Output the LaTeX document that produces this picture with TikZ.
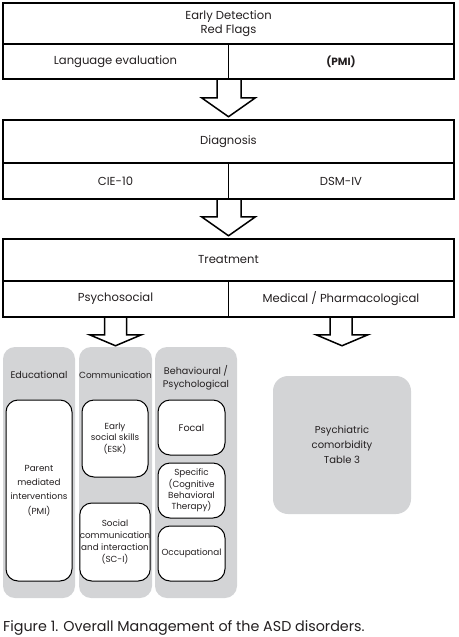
\documentclass[tikz,border=0pt]{standalone}
\usepackage{fontspec}
\setmainfont{Poppins}
\usepackage{tikz}
\usetikzlibrary{calc}
\definecolor{panelgray}{RGB}{211,212,214}
\definecolor{inkblack}{RGB}{35,31,32}

% open block arrow: from, towards, stem half width, head half width, stem length, head length
\newcommand{\hollowarrow}[6]{%
  \draw[arrowline] let \p1=#1, \p2=#2 in
    (\x1-#3,\y1) -- (\x1-#3,\y1-#5) -- (\x2-#4,\y1-#5) -- (\x2,\y1-#5-#6)
    -- (\x2+#4,\y1-#5) -- (\x1+#3,\y1-#5) -- (\x1+#3,\y1);}

\begin{document}
\begin{tikzpicture}[x=1pt, y=-1pt, text=inkblack,
    main/.style = {draw, line width=1.5pt, minimum width=451pt, inner sep=0pt,
                   align=center, font=\fontsize{11.6}{14}\selectfont},
    half/.style = {main, minimum width=225.5pt, minimum height=36pt},
    colbox/.style = {fill=panelgray, rounded corners=12pt, minimum height=251pt, inner sep=0pt},
    innerbox/.style = {draw, fill=white, line width=1pt, rounded corners=12pt, minimum width=66pt,
                       inner sep=0pt, align=center, font=\fontsize{8.8}{11.8}\selectfont},
    headtxt/.style = {align=center, inner sep=0pt, font=\fontsize{9.6}{13}\selectfont},
    arrowline/.style = {draw=black, line width=1.5pt, line join=miter}]
                \useasboundingbox (0,0) rectangle (458,637);
                % screening
                \node[main, minimum height=41pt] (1) at (228.5,23.5) {Early Detection\\Red Flags};
                \node[half, minimum height=35pt] (2) at (115.5,61.5) {Language evaluation};
                \node[half, minimum height=35pt, font=\fontsize{10.5}{12}\selectfont\bfseries] (3) at (341,61.5) {(PMI)};
                % diagnosis
                \node[main, minimum height=43pt] (4) at (228.5,141.5) {Diagnosis};
                \node[half] (5) at (115.5,181) {CIE-10};
                \node[half] (6) at (341,181) {DSM-IV};
                % treatment
                \node[main, minimum height=42pt] (7) at (228.5,260) {Treatment};
                \node[half] (8) at (115.5,299) {Psychosocial};
                \node[half] (9) at (341,299) {Medical / Pharmacological};
                % psychosocial columns
                \node[colbox, minimum width=72pt] (10) at (39,472.5) {};
                \node[colbox, minimum width=73pt] (11) at (115.5,472.5) {};
                \node[colbox, minimum width=82pt] (12) at (196,472.5) {};
                \node[headtxt] (13) at (39,375) {Educational};
                \node[headtxt, font=\fontsize{8.9}{13}\selectfont] (14) at (115.5,375) {Communication};
                \node[headtxt] (15) at (196,378) {Behavioural /\\Psychological};
                \node[innerbox, minimum height=181pt, font=\fontsize{8.8}{14.3}\selectfont] (16) at (39,490.5) {Parent\\mediated\\interventions\\(PMI)};
                \node[innerbox, minimum height=77pt] (17) at (115,438.5) {Early\\social skills\\(ESK)};
                \node[innerbox, minimum height=78pt] (18) at (115,542) {Social\\communication\\and interaction\\(SC-I)};
                \node[innerbox, minimum width=67pt, minimum height=55pt, font=\fontsize{9.6}{11}\selectfont] (19) at (191.5,427.5) {Focal};
                \node[innerbox, minimum width=67pt, minimum height=55pt, font=\fontsize{8.8}{11.3}\selectfont] (20) at (191.5,490.5) {Specific\\(Cognitive\\Behavioral\\Therapy)};
                \node[innerbox, minimum width=67pt, minimum height=55pt] (21) at (191.5,553.5) {Occupational};
                % pharmacological
                \node[colbox, minimum width=138pt, minimum height=138pt, rounded corners=15pt, align=center,
                      font=\fontsize{10}{15}\selectfont] (22) at (342,445) {Psychiatric\\comorbidity\\Table 3};
                % caption
                \node[anchor=west, inner sep=0pt, font=\fontsize{14.3}{16}\selectfont] (23) at (3,628) {Figure 1. Overall Management of the ASD disorders.};
                % arrows
                \hollowarrow{(2.south east)}{(4.north)}{12pt}{27pt}{18pt}{19pt}
                \hollowarrow{(5.south east)}{(7.north)}{12pt}{27pt}{17pt}{19pt}
                \hollowarrow{(8.south)}{(11.north)}{11pt}{26pt}{17pt}{11pt}
                \hollowarrow{(9.south)}{(22.north)}{11pt}{26pt}{17pt}{11pt}
\end{tikzpicture}
\end{document}
